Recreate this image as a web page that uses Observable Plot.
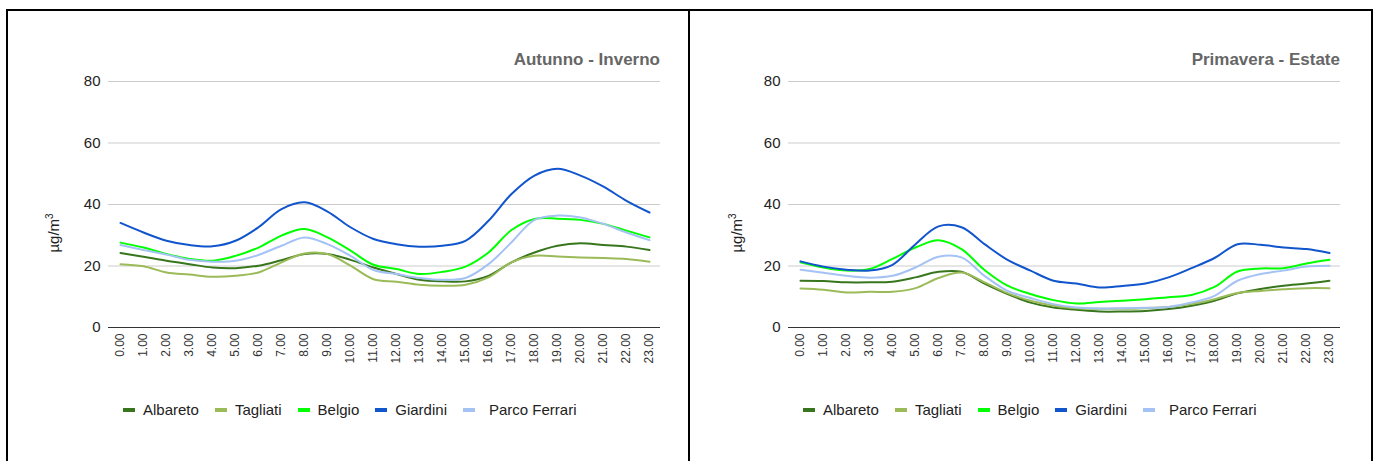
<!DOCTYPE html>
<html><head><meta charset="utf-8">
<script src="https://cdn.jsdelivr.net/npm/d3@7"></script>
<script src="https://cdn.jsdelivr.net/npm/@observablehq/plot@0.6"></script>
<style>
body{margin:0;background:#fff;font-family:"Liberation Sans",Arial,sans-serif;}
#wrap{position:relative;width:1374px;height:461px;overflow:hidden;}
.frame{position:absolute;background:#000;}
.panel{position:absolute;top:12px;width:680px;height:449px;}
.title{position:absolute;top:38px;font-weight:bold;font-size:17px;line-height:20px;color:#666;text-align:right;}
.ylab{position:absolute;font-size:15px;color:#222;transform:rotate(-90deg);transform-origin:center;white-space:nowrap;line-height:18px;}
.legend{position:absolute;top:389px;font-size:15px;line-height:18px;color:#222;display:flex;align-items:center;}
.legend span.sw{display:inline-block;width:12px;height:4px;margin-right:8px;}
.legend span.it{margin-right:16px;display:flex;align-items:center;}
</style></head><body>
<div id="wrap"></div>
<script>
const hours = ["0.00","1.00","2.00","3.00","4.00","5.00","6.00","7.00","8.00","9.00","10.00","11.00","12.00","13.00","14.00","15.00","16.00","17.00","18.00","19.00","20.00","21.00","22.00","23.00"];
const stations = ["Albareto","Tagliati","Belgio","Giardini","Parco Ferrari"];
const colors = ["#38761d","#9bbb59","#00ff00","#1155cc","#a4c2f4"];
const yTicks = [0,20,40,60,80];

// Autunno - Inverno
const aiAlbareto = [24.2,23.0,21.7,20.6,19.5,19.3,20.1,21.9,23.9,23.9,22.0,19.5,17.4,15.5,15.0,15.0,16.8,21.2,24.4,26.6,27.4,26.8,26.3,25.2];
const aiTagliati = [20.6,19.9,17.9,17.2,16.5,16.8,17.9,21.2,24.1,23.9,20.1,15.7,14.9,13.9,13.6,13.9,16.3,21.2,23.3,23.1,22.8,22.6,22.3,21.4];
const aiBelgio = [27.6,26.0,23.9,22.3,21.7,23.3,26.0,29.9,32.0,29.3,25.0,20.4,19.0,17.4,18.1,19.8,24.4,31.7,35.3,35.4,35.0,33.7,31.5,29.3];
const aiGiardini = [34.0,30.9,28.2,26.8,26.4,28.2,32.6,38.5,40.7,37.7,32.6,28.8,27.1,26.3,26.6,28.2,34.7,43.4,49.4,51.6,49.4,45.8,41.2,37.4];
const aiParco = [26.8,25.2,23.7,22.0,21.4,21.7,23.6,26.6,29.3,27.1,23.3,18.7,17.4,16.1,15.5,16.1,20.6,27.7,35.0,36.4,35.8,33.7,30.9,28.4];

// Primavera - Estate
const peAlbareto = [15.2,15.1,14.7,14.7,14.9,16.3,18.1,18.1,14.3,10.9,8.1,6.5,5.8,5.2,5.2,5.4,6.0,7.1,8.7,11.1,12.5,13.6,14.3,15.2];
const peTagliati = [12.7,12.3,11.4,11.6,11.6,12.8,16.1,17.9,14.7,11.2,8.7,7.1,6.3,6.1,6.1,6.3,6.7,7.6,9.2,11.2,11.9,12.4,12.8,12.8];
const peBelgio = [21.2,19.5,18.5,19.0,22.3,26.0,28.4,25.5,18.7,13.6,10.9,8.9,7.8,8.3,8.7,9.2,9.8,10.6,13.2,18.2,19.2,19.3,20.8,22.0];
const peGiardini = [21.5,19.8,18.8,18.5,20.4,27.1,32.9,32.6,27.1,22.0,18.5,15.2,14.3,13.0,13.5,14.3,16.3,19.3,22.6,27.1,26.9,26.0,25.5,24.2];
const peParco = [18.8,17.8,16.8,16.2,16.8,19.5,23.0,22.8,16.8,11.9,9.6,7.6,6.5,6.2,6.3,6.4,6.7,8.1,10.3,15.2,17.4,18.5,19.8,20.1];

const panels = [
  {title:"Autunno - Inverno", series:[aiAlbareto,aiTagliati,aiBelgio,aiGiardini,aiParco], left:8, ml:100, mr:28, lgLeft:115},
  {title:"Primavera - Estate", series:[peAlbareto,peTagliati,peBelgio,peGiardini,peParco], left:691, ml:97, mr:31, lgLeft:112}
];

const wrap = document.getElementById("wrap");
function frame(x,y,w,h){const d=document.createElement("div");d.className="frame";Object.assign(d.style,{left:x+"px",top:y+"px",width:w+"px",height:h+"px"});wrap.appendChild(d);}
frame(6,9,1367,2);
frame(6,9,2,452);
frame(688,9,2,452);
frame(1371,9,2,452);

panels.forEach(p => {
  const div = document.createElement("div");
  div.className = "panel";
  div.style.left = p.left + "px";
  wrap.appendChild(div);
  const rows = [];
  p.series.forEach((vals, si) => vals.forEach((v, i) => rows.push({hour: hours[i], value: v, station: stations[si]})));
  const W = 680, H = 360, top = 12;
  const chart = Plot.plot({
    width: W, height: H,
    marginTop: 81 - top, marginBottom: top + H - 327,
    marginLeft: p.ml, marginRight: p.mr,
    style: {fontFamily: '"Liberation Sans", Arial, sans-serif', background: "transparent"},
    x: {type: "point", domain: hours, padding: 0.5},
    y: {domain: [0, 80], ticks: yTicks},
    color: {domain: stations, range: colors},
    marks: [
      Plot.gridY(yTicks.filter(d => d > 0), {stroke: "#cccccc", strokeOpacity: 1, strokeWidth: 1}),
      Plot.axisY(yTicks, {tickSize: 0, tickPadding: 8, fontSize: 15, fill: "#222", label: null}),
      Plot.axisX(hours, {tickSize: 0, tickRotate: -90, tickPadding: 6, fontSize: 12, fill: "#333", label: null}),
      Plot.ruleY([0], {stroke: "#333", strokeWidth: 1.2}),
      ...stations.map(s => Plot.line(rows.filter(r => r.station === s), {x: "hour", y: "value", stroke: "station", strokeWidth: 2, curve: "catmull-rom"}))
    ]
  });
  chart.style.position = "absolute";
  chart.style.left = "0px";
  chart.style.top = "0px";
  div.appendChild(chart);

  const t = document.createElement("div");
  t.className = "title";
  t.textContent = p.title;
  t.style.right = p.mr + "px";
  div.appendChild(t);

  const yl = document.createElement("div");
  yl.className = "ylab";
  yl.innerHTML = "µg/m<sup style='font-size:10px'>3</sup>";
  yl.style.left = "24px";
  yl.style.top = "210px";
  div.appendChild(yl);

  const lg = document.createElement("div");
  lg.className = "legend";
  lg.style.left = p.lgLeft + "px";
  stations.forEach((s, i) => {
    const it = document.createElement("span");
    it.className = "it";
    const sw = document.createElement("span");
    sw.className = "sw";
    sw.style.background = colors[i];
    it.appendChild(sw);
    it.appendChild(document.createTextNode(s));
    if (s === "Parco Ferrari") sw.style.marginRight = "14px";
    lg.appendChild(it);
  });
  div.appendChild(lg);
});
</script>
</body></html>
